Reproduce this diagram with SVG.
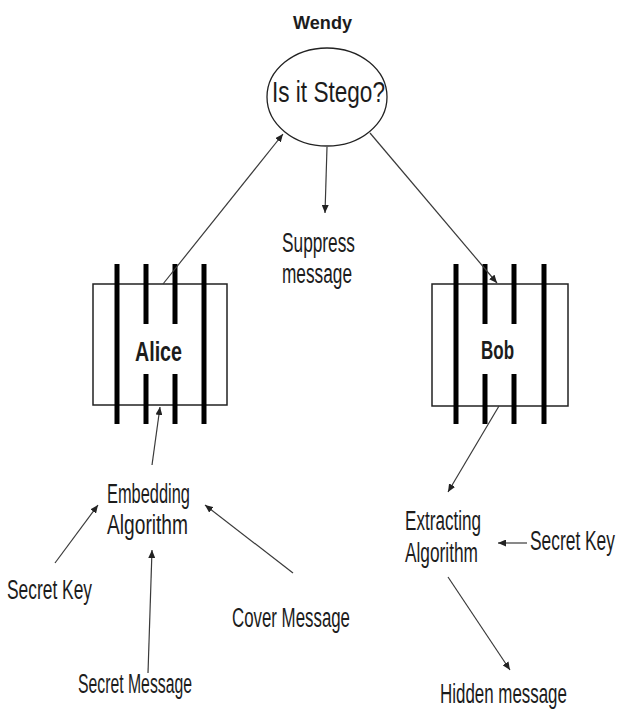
<svg xmlns="http://www.w3.org/2000/svg" width="619" height="710" viewBox="0 0 619 710">
<defs>
<marker id="ah" markerUnits="userSpaceOnUse" markerWidth="8" markerHeight="7" refX="8" refY="3.5" orient="auto">
<path d="M0,0 L8,3.5 L0,7 z" fill="#222"/>
</marker>
<style>
text{font-family:"Liberation Sans",Arial,sans-serif;fill:#1c1c1c;}
.t{font-size:27px;}
.b{font-weight:bold;}
.box{fill:#fff;stroke:#222;stroke-width:1.5;}
.bar{stroke:#000;stroke-width:5;}
.c line{stroke:#3a3a3a;stroke-width:1.2;marker-end:url(#ah);}
</style>
</defs>
<rect width="619" height="710" fill="#fff"/>
<g id="wendy">
<text class="b" x="293" y="29" font-size="19" textLength="59" lengthAdjust="spacingAndGlyphs">Wendy</text>
<ellipse cx="327" cy="97" rx="60" ry="49" fill="#fff" stroke="#222" stroke-width="1.3"/>
<text x="272" y="102" font-size="30" textLength="113" lengthAdjust="spacingAndGlyphs">Is it Stego?</text>
</g>
<g id="alice">
<rect class="box" x="93" y="284" width="134" height="121"/>
<line class="bar" x1="117" y1="264" x2="117" y2="424"/>
<line class="bar" x1="146" y1="264" x2="146" y2="324"/>
<line class="bar" x1="146" y1="374" x2="146" y2="424"/>
<line class="bar" x1="175" y1="264" x2="175" y2="324"/>
<line class="bar" x1="175" y1="374" x2="175" y2="424"/>
<line class="bar" x1="204" y1="264" x2="204" y2="424"/>
<text class="b" x="135" y="361" font-size="27" textLength="47" lengthAdjust="spacingAndGlyphs">Alice</text>
</g>
<g id="bob">
<rect class="box" x="432" y="284" width="136" height="122"/>
<line class="bar" x1="456" y1="264" x2="456" y2="424"/>
<line class="bar" x1="485" y1="264" x2="485" y2="324"/>
<line class="bar" x1="485" y1="374" x2="485" y2="424"/>
<line class="bar" x1="514" y1="264" x2="514" y2="324"/>
<line class="bar" x1="514" y1="374" x2="514" y2="424"/>
<line class="bar" x1="544" y1="264" x2="544" y2="424"/>
<text class="b" x="481" y="359" font-size="26" textLength="33" lengthAdjust="spacingAndGlyphs">Bob</text>
</g>
<g id="suppress">
<text class="t" x="282" y="252" textLength="73" lengthAdjust="spacingAndGlyphs">Suppress</text>
<text class="t" x="282" y="283" textLength="70" lengthAdjust="spacingAndGlyphs">message</text>
</g>
<g id="embedding">
<text class="t" x="107" y="503" textLength="83" lengthAdjust="spacingAndGlyphs">Embedding</text>
<text class="t" x="107" y="534" textLength="81" lengthAdjust="spacingAndGlyphs">Algorithm</text>
</g>
<g id="secret-key-left">
<text class="t" x="7" y="599" textLength="85" lengthAdjust="spacingAndGlyphs">Secret Key</text>
</g>
<g id="secret-message">
<text class="t" x="78" y="693" textLength="114" lengthAdjust="spacingAndGlyphs">Secret Message</text>
</g>
<g id="cover-message">
<text class="t" x="232" y="627" textLength="118" lengthAdjust="spacingAndGlyphs">Cover Message</text>
</g>
<g id="extracting">
<text class="t" x="405" y="530" textLength="76" lengthAdjust="spacingAndGlyphs">Extracting</text>
<text class="t" x="405" y="562" textLength="73" lengthAdjust="spacingAndGlyphs">Algorithm</text>
</g>
<g id="secret-key-right">
<text class="t" transform="translate(530,550) scale(0.644,1)" x="0" y="0">Secret Key</text>
</g>
<g id="hidden-message">
<text class="t" transform="translate(440,703) scale(0.627,1)" x="0" y="0">Hidden message</text>
</g>
<g id="connectors" class="c">
<line x1="163" y1="284" x2="283" y2="134"/>
<line x1="327" y1="147" x2="325" y2="213"/>
<line x1="370" y1="133" x2="497" y2="283"/>
<line x1="152" y1="465" x2="160" y2="407"/>
<line x1="499" y1="406" x2="448" y2="492"/>
<line x1="55" y1="563" x2="98" y2="505"/>
<line x1="148" y1="673" x2="152" y2="550"/>
<line x1="293" y1="573" x2="205" y2="505"/>
<line x1="527" y1="543" x2="498" y2="543"/>
<line x1="448" y1="577" x2="510" y2="670"/>
</g>
</svg>
